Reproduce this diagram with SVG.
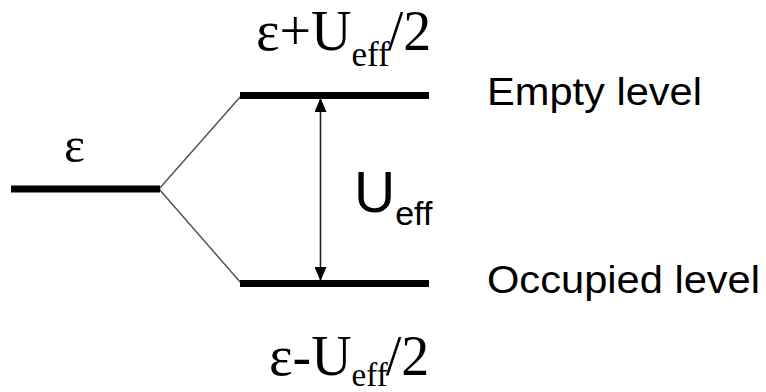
<svg xmlns="http://www.w3.org/2000/svg" width="766" height="392" viewBox="0 0 766 392">
<style>
.lvl{stroke:#000;stroke-width:7;fill:none}
.thin{stroke:#555;stroke-width:1.5;fill:none}
.arr{stroke:#222;stroke-width:1.6;fill:none}
.serif{font-family:"Liberation Serif","Times New Roman",serif;fill:#000}
.sans{font-family:"Liberation Sans",Arial,sans-serif;fill:#000}
</style>
<defs>
<marker id="ah" viewBox="0 0 14 12" refX="13" refY="6" markerWidth="14" markerHeight="12" markerUnits="userSpaceOnUse" orient="auto-start-reverse">
<path d="M0,0 L14,6 L0,12 Z" fill="#000"/>
</marker>
</defs>
<rect width="766" height="392" fill="#fff"/>
<g id="connectors">
<line class="thin" x1="159" y1="189" x2="241" y2="96"/>
<line class="thin" x1="159" y1="189" x2="241" y2="283"/>
<line class="arr" x1="320.5" y1="99" x2="320.5" y2="280" marker-start="url(#ah)" marker-end="url(#ah)"/>
</g>
<g id="level-eps">
<line class="lvl" x1="11" y1="189" x2="160" y2="189"/>
<text class="serif" x="64" y="162" font-size="50">ε</text>
</g>
<g id="level-empty">
<line class="lvl" x1="240" y1="95.5" x2="429" y2="95.5"/>
<text class="serif" x="256" y="50" font-size="56">ε+U<tspan font-size="35" dy="16">eff</tspan><tspan dy="-16" dx="-2">/2</tspan></text>
<text class="sans" x="487" y="105" font-size="39" textLength="215" lengthAdjust="spacingAndGlyphs">Empty level</text>
</g>
<g id="level-occupied">
<line class="lvl" x1="240" y1="283.5" x2="429" y2="283.5"/>
<text class="serif" x="269" y="375" font-size="56">ε-U<tspan font-size="33" dy="11">eff</tspan><tspan dy="-11" dx="-2">/2</tspan></text>
<text class="sans" x="487" y="293" font-size="39" textLength="273" lengthAdjust="spacingAndGlyphs">Occupied level</text>
</g>
<g id="label-ueff">
<text class="sans" x="354" y="212" font-size="57">U<tspan font-size="34" dy="13">eff</tspan></text>
</g>
</svg>
